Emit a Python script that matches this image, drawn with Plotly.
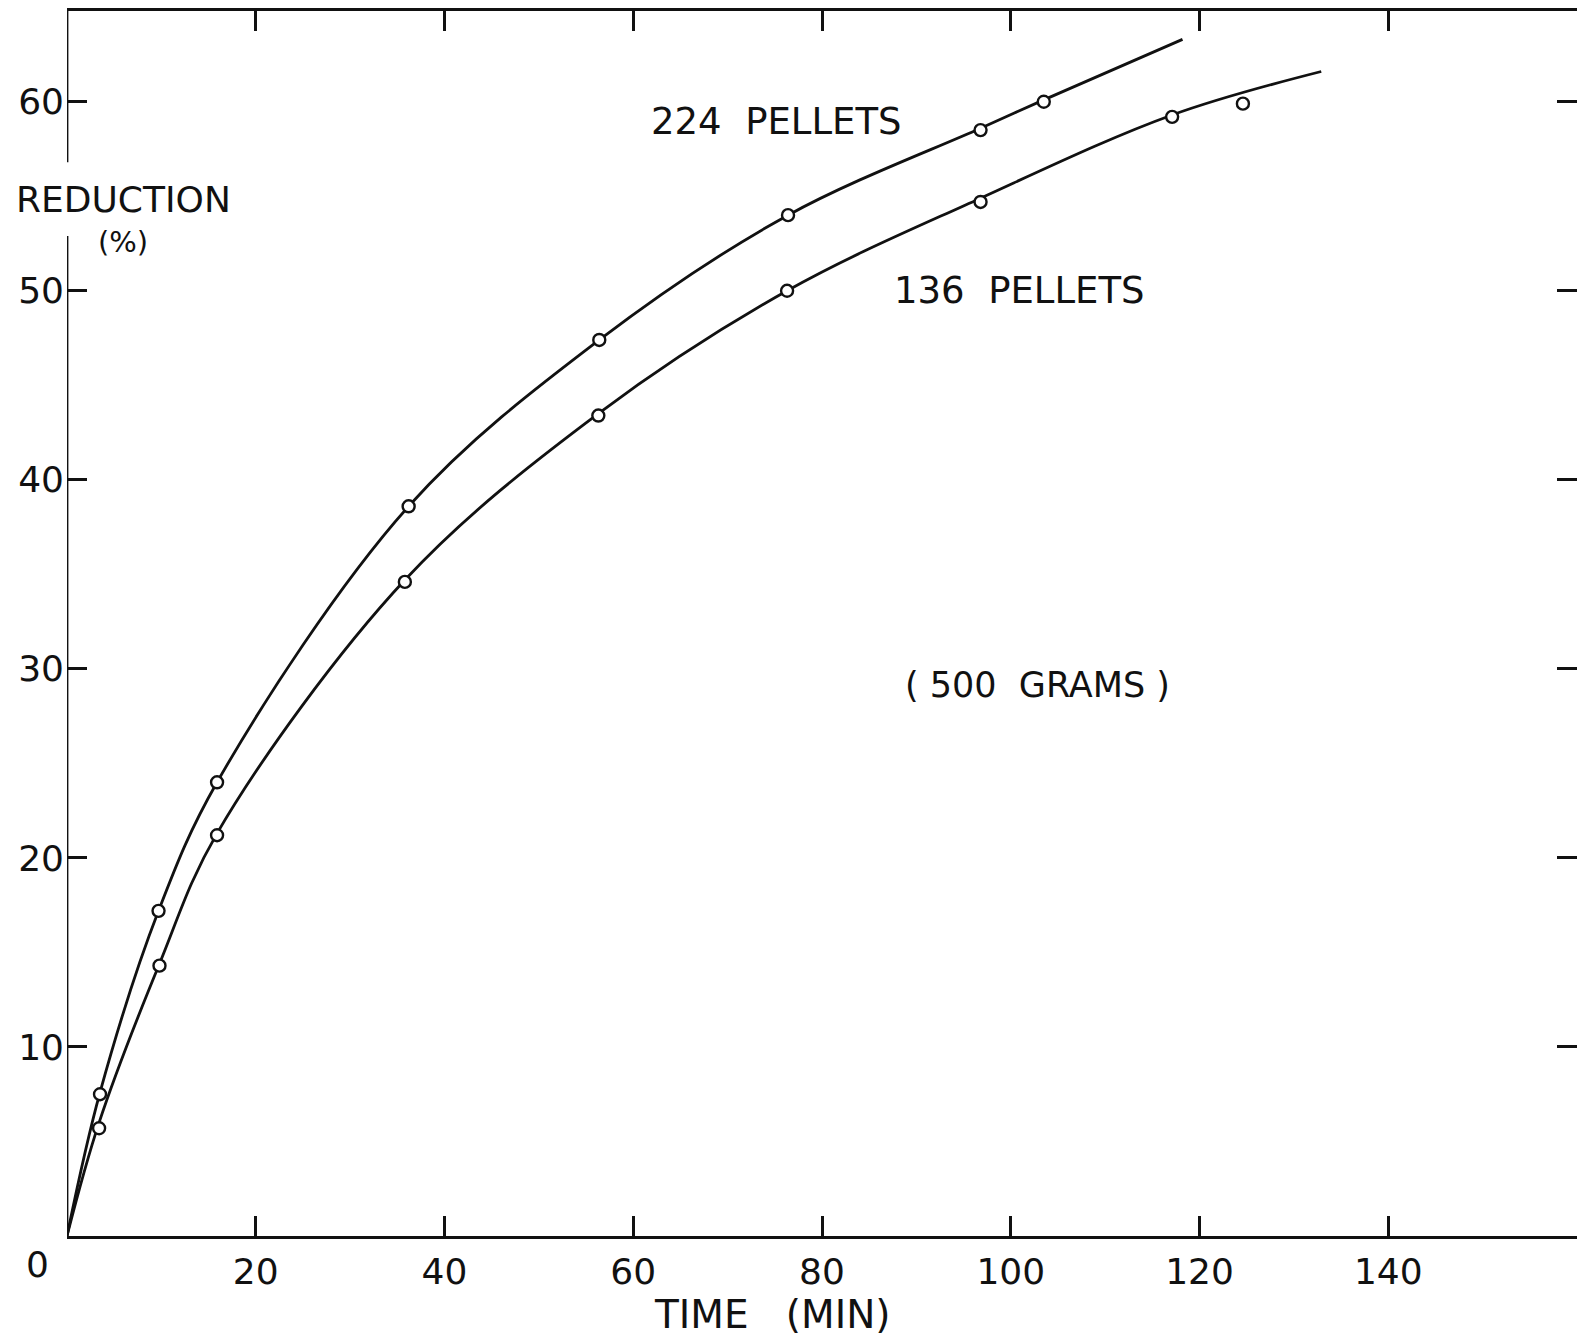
import plotly.graph_objects as go

# Measured data points (time in min, reduction in %)
t_224 = [3.5, 9.7, 15.9, 36.2, 56.4, 76.4, 96.8, 103.5]
r_224 = [7.5, 17.2, 24.0, 38.6, 47.4, 54.0, 58.5, 60.0]
t_136 = [3.4, 9.8, 15.9, 35.8, 56.3, 76.3, 96.8, 117.1, 124.6]
r_136 = [5.7, 14.3, 21.2, 34.6, 43.4, 50.0, 54.7, 59.2, 59.9]

# Hand-drawn smooth curves
curve_t_224 = [0, 3.5, 9.7, 15.9, 36.2, 56.4, 76.4, 96.8, 103.5, 118.2]
curve_r_224 = [0, 7.6, 17.2, 24.0, 38.6, 47.4, 54.0, 58.6, 60.1, 63.3]
curve_t_136 = [0, 3.4, 9.8, 15.9, 35.8, 56.3, 76.3, 96.8, 117.1, 132.9]
curve_r_136 = [0, 6.0, 14.4, 21.3, 34.7, 43.5, 50.0, 54.9, 59.3, 61.6]

x_ticks = [20, 40, 60, 80, 100, 120, 140]
y_ticks = [10, 20, 30, 40, 50, 60]

FONT = "DejaVu Sans"
INK = "#111111"
LW = 2.8

fig = go.Figure()
for ct, cr in [(curve_t_224, curve_r_224), (curve_t_136, curve_r_136)]:
    fig.add_trace(go.Scatter(x=ct, y=cr, mode="lines",
                             line=dict(color=INK, width=LW, shape="spline", smoothing=1.0),
                             hoverinfo="skip", showlegend=False))
for tt, rr in [(t_224, r_224), (t_136, r_136)]:
    fig.add_trace(go.Scatter(x=tt, y=rr, mode="markers",
                             marker=dict(symbol="circle", size=12, color="white",
                                         line=dict(color=INK, width=2.4)),
                             showlegend=False))

# Left axis line with a gap for the axis title
for y0, y1 in [(0, 52.9), (56.8, 64.8)]:
    fig.add_shape(type="line", xref="x", yref="y", x0=0, x1=0, y0=y0, y1=y1,
                  line=dict(color=INK, width=LW))

L, R, T, B = 67, 0, 11, 108
W, H = 1577, 1344
pw, ph = W - L - R, H - T - B

annotations = [
    (772, 1314, "TIME   (MIN)", 39),
    (123, 200, "REDUCTION", 36),
    (123, 242, "(%)", 29),
    (776, 122, "224  PELLETS", 37),
    (1020, 291, "136  PELLETS", 37),
    (1037, 685, "( 500  GRAMS )", 35),
    (37, 1264, "0", 36),
]
fig.layout.annotations = [
    dict(x=(px - L) / pw, y=(H - B - py) / ph, xref="paper", yref="paper",
         xanchor="center", yanchor="middle", text=txt, showarrow=False,
         font=dict(family=FONT, size=sz, color=INK))
    for (px, py, txt, sz) in annotations
]

fig.update_layout(
    width=W, height=H,
    margin=dict(l=L, r=R, t=T, b=B),
    paper_bgcolor="white", plot_bgcolor="white",
)

fig.update_xaxes(range=[0, 160], tickvals=x_ticks, ticktext=[str(v) for v in x_ticks],
                 ticks="inside", ticklen=20, tickwidth=LW, tickcolor=INK,
                 showline=True, linecolor=INK, linewidth=LW, mirror="ticks",
                 showgrid=False, zeroline=False, ticklabelstandoff=2,
                 tickfont=dict(family=FONT, size=36, color=INK))
fig.update_yaxes(range=[0, 64.8], tickvals=y_ticks, ticktext=[str(v) for v in y_ticks],
                 ticks="inside", ticklen=20, tickwidth=LW, tickcolor=INK,
                 showline=False, mirror="ticks",
                 showgrid=False, zeroline=False, ticklabelstandoff=2,
                 tickfont=dict(family=FONT, size=36, color=INK))

fig.write_html("out.html")
